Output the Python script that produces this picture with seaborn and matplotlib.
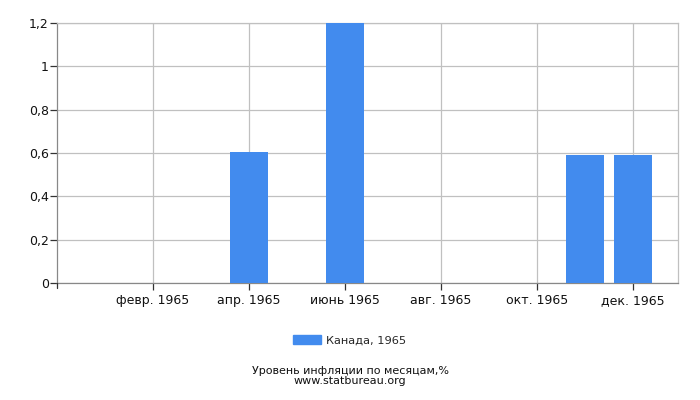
import matplotlib
matplotlib.use("Agg")
import matplotlib.pyplot as plt
import matplotlib.patches as mpatches
import seaborn as sns
import pandas as pd

months = ["янв. 1965", "февр. 1965", "март 1965", "апр. 1965", "май 1965", "июнь 1965",
          "июль 1965", "авг. 1965", "сент. 1965", "окт. 1965", "нояб. 1965", "дек. 1965"]
values = [0, 0, 0, 0.605, 0, 1.2, 0, 0, 0, 0, 0.59, 0.59]
yticks = [0, 0.2, 0.4, 0.6, 0.8, 1.0, 1.2]
ytick_labels = ["0", "0,2", "0,4", "0,6", "0,8", "1", "1,2"]
shown_ticks = [1, 3, 5, 7, 9, 11]
series_label = "Канада, 1965"
bar_color = "#428BEE"

sns.set_style("white")
plt.rcParams['font.family'] = ['DejaVu Sans']

fig = plt.figure(figsize=(7, 4), dpi=100)
ax = fig.add_axes([57/700, 1 - 283/400, (678-57)/700, (283-23)/400])

df = pd.DataFrame({"month": months, "value": values})
sns.barplot(data=df, x="month", y="value", order=months, color=bar_color,
            width=0.8, saturation=1, ax=ax, zorder=3, linewidth=0, edgecolor="none")

ax.set_xlim(-1, 11.94)
ax.set_ylim(0, 1.2)
ax.set_xticks(shown_ticks)
ax.set_xticklabels([months[i] for i in shown_ticks], fontsize=9, color="#111111")
ax.set_yticks(yticks)
ax.set_yticklabels(ytick_labels, fontsize=9, color="#111111")
ax.set_xlabel("")
ax.set_ylabel("")

ax.grid(True, color="#C0C0C0", linewidth=0.9, zorder=0)
ax.set_axisbelow(True)
for s in ax.spines.values():
    s.set_color("#C0C0C0")
    s.set_linewidth(0.9)
ax.spines["bottom"].set_color("#888888")
ax.spines["left"].set_color("#888888")
ax.tick_params(axis="both", which="both", length=5, width=0.9, color="#333333",
               direction="out", bottom=True, left=True, pad=1)
ax.tick_params(axis="x", pad=3)

# extra tick at left axis start
ax.plot([-1, -1], [0, -0.022], color="#333333", lw=0.9, clip_on=False, zorder=4)

handle = mpatches.Patch(color=bar_color, label=series_label)
fig.legend(handles=[handle], loc="center", bbox_to_anchor=(0.5, 1 - 340/400),
           frameon=False, fontsize=8.2, handlelength=2.4, handleheight=0.9,
           handletextpad=0.5)

fig.text(0.5, 1 - 376/400, "Уровень инфляции по месяцам,%\nwww.statbureau.org",
         ha="center", va="center", fontsize=8, color="#111111", linespacing=0.95)

fig.savefig("out.png", dpi=100)
